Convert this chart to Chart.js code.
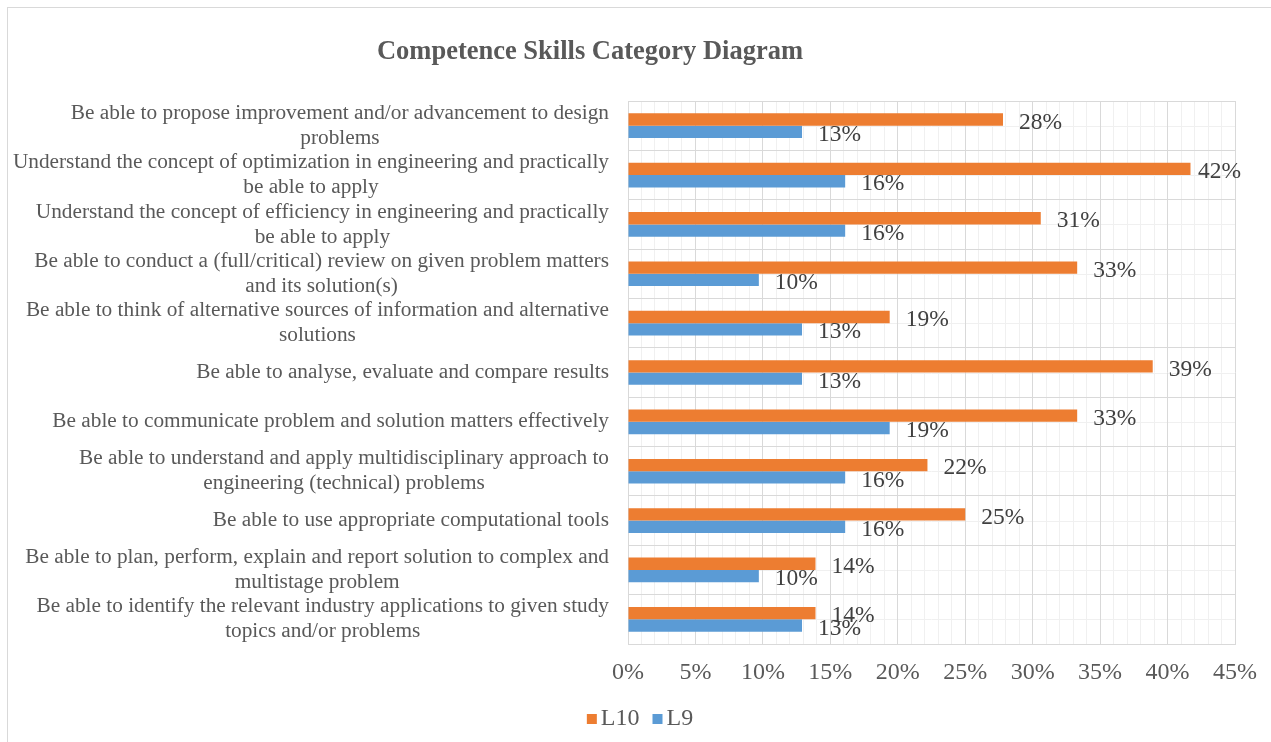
<!DOCTYPE html>
<html>
<head>
<meta charset="utf-8">
<script src="https://cdn.jsdelivr.net/npm/chart.js@4/dist/chart.umd.min.js"></script>
<style>
  html, body { margin: 0; padding: 0; background: #fff; }
  #wrap { position: relative; width: 1271px; height: 742px; overflow: hidden; }
  #frame { position: absolute; left: 7px; top: 7px; width: 1300px; height: 800px; border: 1px solid #d9d9d9; }
  canvas { position: absolute; left: 0; top: 0; }
</style>
</head>
<body>
<div id="wrap">
  <div id="frame"></div>
  <canvas id="chart" width="1271" height="742"></canvas>
</div>
<script>
const chartTitle = 'Competence Skills Category Diagram';

const categories = [
  ['Be able to propose improvement and/or advancement to design', 'problems'],
  ['Understand the concept of optimization in engineering and practically', 'be able to apply'],
  ['Understand the concept of efficiency in engineering and practically', 'be able to apply'],
  ['Be able to conduct a (full/critical) review on given problem matters', 'and its solution(s)'],
  ['Be able to think of alternative sources of information and alternative', 'solutions'],
  ['Be able to analyse, evaluate and compare results'],
  ['Be able to communicate problem and solution matters effectively'],
  ['Be able to understand and apply multidisciplinary approach to', 'engineering (technical) problems'],
  ['Be able to use appropriate computational tools'],
  ['Be able to plan, perform, explain and report solution to complex and', 'multistage problem'],
  ['Be able to identify the relevant industry applications to given study', 'topics and/or problems']
];

// percent values
const l10 = [27.8, 41.7, 30.6, 33.3, 19.4, 38.9, 33.3, 22.2, 25.0, 13.9, 13.9];
const l9 = [12.9, 16.1, 16.1, 9.7, 12.9, 12.9, 19.4, 16.1, 16.1, 9.7, 12.9];

const xTicks = [0, 5, 10, 15, 20, 25, 30, 35, 40, 45];

const serif = "'Liberation Serif', 'Times New Roman', serif";

// title, category labels, minor grid, value labels and legend
const extras = {
  id: 'extras',
  beforeDraw(chart) {
    const ctx = chart.ctx;
    const area = chart.chartArea;
    const y = chart.scales.y;
    ctx.save();
    ctx.strokeStyle = '#f0f0f0';
    ctx.lineWidth = 1;
    categories.forEach((c, i) => {
      const py = Math.round(y.getPixelForValue(i)) + 0.5;
      ctx.beginPath();
      ctx.moveTo(area.left, py);
      ctx.lineTo(area.right, py);
      ctx.stroke();
    });
    ctx.restore();
  },
  afterDraw(chart) {
    const ctx = chart.ctx;
    const area = chart.chartArea;
    const y = chart.scales.y;
    ctx.save();
    // title
    ctx.fillStyle = '#595959';
    ctx.font = 'bold 26.5px ' + serif;
    ctx.textAlign = 'center';
    ctx.textBaseline = 'middle';
    ctx.fillText(chartTitle, 590, 52);
    // category labels (lines centred, block right aligned)
    ctx.font = '21.3px ' + serif;
    const lh = 25;
    categories.forEach((lines, i) => {
      const w = Math.max(...lines.map(t => ctx.measureText(t).width));
      const cx = 609 - w / 2;
      const cy = y.getPixelForValue(i);
      lines.forEach((t, k) => {
        ctx.fillText(t, cx, cy + (k - (lines.length - 1) / 2) * lh);
      });
    });
    // value labels
    ctx.fillStyle = '#404040';
    ctx.font = '23.5px ' + serif;
    ctx.textAlign = 'left';
    chart.data.datasets.forEach((ds, di) => {
      chart.getDatasetMeta(di).data.forEach((bar, j) => {
        const tx = Math.min(bar.x + 16, area.right - 37);
        ctx.fillText(Math.round(ds.data[j]) + '%', tx, bar.y + 3);
      });
    });
    // legend
    ctx.font = '24px ' + serif;
    ctx.fillStyle = '#595959';
    const items = chart.data.datasets.map(ds => ({ text: ds.label, color: ds.backgroundColor, w: ctx.measureText(ds.label).width }));
    const total = items.reduce((s, it) => s + 10 + 4 + it.w, 0) + 13 * (items.length - 1);
    let lx = 640 - total / 2;
    const ly = 719;
    items.forEach(it => {
      ctx.fillStyle = it.color;
      ctx.fillRect(lx, ly - 5, 10, 10);
      ctx.fillStyle = '#595959';
      ctx.fillText(it.text, lx + 14, ly);
      lx += 10 + 4 + it.w + 13;
    });
    ctx.restore();
  }
};

new Chart(document.getElementById('chart'), {
  type: 'bar',
  data: {
    labels: categories,
    datasets: [
      { label: 'L10', data: l10, backgroundColor: '#ED7D31', categoryPercentage: 0.5, barPercentage: 1.0 },
      { label: 'L9', data: l9, backgroundColor: '#5B9BD5', categoryPercentage: 0.5, barPercentage: 1.0 }
    ]
  },
  options: {
    indexAxis: 'y',
    responsive: false,
    animation: false,
    layout: { padding: { left: 0, right: 35, top: 101, bottom: 48 } },
    plugins: {
      title: { display: false },
      tooltip: { enabled: false },
      legend: { display: false }
    },
    scales: {
      x: {
        type: 'linear',
        min: 0,
        max: 45,
        afterFit(scale) { scale.height = 50; },
        ticks: {
          stepSize: 1,
          autoSkip: false,
          maxRotation: 0,
          padding: 14,
          color: '#595959',
          font: { family: serif, size: 24 },
          callback: v => xTicks.includes(v) ? v + '%' : ''
        },
        grid: {
          drawTicks: false,
          color: c => (c.tick && xTicks.includes(c.tick.value)) ? '#d9d9d9' : '#f0f0f0'
        },
        border: { color: '#d9d9d9' }
      },
      y: {
        type: 'category',
        offset: true,
        afterFit(scale) { scale.width = 628; },
        ticks: { display: false },
        grid: { offset: true, drawTicks: false, color: '#d9d9d9' },
        border: { color: '#d9d9d9' }
      }
    }
  },
  plugins: [extras]
});
</script>
</body>
</html>
